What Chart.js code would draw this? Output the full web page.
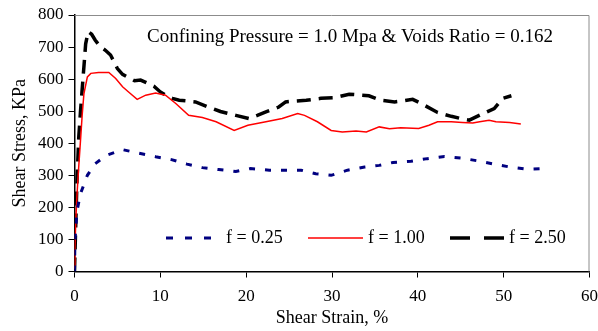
<!DOCTYPE html>
<html>
<head>
<meta charset="utf-8">
<script src="https://cdn.jsdelivr.net/npm/chart.js@4.4.1/dist/chart.umd.min.js"></script>
<style>
  html, body { margin: 0; padding: 0; background: #ffffff; }
  #wrap { width: 598px; height: 331px; }
</style>
</head>
<body>
<div id="wrap"><canvas id="c" width="598" height="331"></canvas></div>
<script>
// ----- Data -----
const chartTitle = "Confining Pressure = 1.0 Mpa & Voids Ratio = 0.162";
const seriesLabels = ["f = 0.25", "f = 1.00", "f = 2.50"];
const xTicks = [0, 10, 20, 30, 40, 50, 60];
const yTicks = [0, 100, 200, 300, 400, 500, 600, 700, 800];

const strain025 = [0, 0.05, 0.3, 0.7, 1.5, 2.4, 3.7, 5.6, 7.5, 9.45, 11.3, 13.1, 14.9, 16.8, 18.8, 20.5, 22.7, 24.4, 26.4, 28.1, 29.9, 31.8, 33.8, 35.5, 37.1, 39.2, 41.1, 43.1, 45.0, 47.0, 48.7, 50.7, 52.8, 54.8];
const stress025 = [0, 97, 190, 243, 300, 336, 362, 380, 369, 358, 349, 335, 324, 318, 312, 321, 316, 316, 316, 305, 300, 316, 326, 331, 340, 344, 352, 359, 354, 345, 336, 326, 319, 321];

const strain100 = [0, 0.05, 0.15, 0.3, 0.5, 0.7, 0.9, 1.1, 1.5, 1.9, 2.8, 4.0, 4.8, 5.6, 6.3, 7.3, 8.3, 9.45, 10.6, 11.8, 13.3, 14.9, 16.5, 18.6, 20.2, 22.3, 24.2, 26.0, 26.8, 28.3, 29.9, 31.2, 32.8, 34.0, 35.5, 36.7, 38.0, 40.1, 41.3, 42.3, 43.9, 45.2, 46.4, 47.2, 48.3, 49.1, 50.7, 52.0];
const stress100 = [10, 75, 160, 243, 330, 409, 490, 555, 607, 618, 621, 621, 602, 576, 560, 537, 550, 557, 550, 524, 487, 480, 467, 440, 456, 467, 477, 493, 487, 467, 440, 435, 438, 435, 451, 445, 448, 446, 456, 467, 467, 465, 463, 467, 472, 467, 465, 460];

const strain250 = [0, 0.1, 0.2, 0.3, 0.5, 0.7, 0.9, 1.1, 1.3, 1.6, 2.0, 2.4, 3.0, 3.6, 4.2, 5.0, 5.6, 6.3, 7.0, 7.7, 8.3, 9.25, 10.0, 10.6, 11.4, 12.2, 13.0, 14.1, 15.5, 17.0, 18.8, 20.3, 21.3, 22.3, 23.8, 24.6, 25.4, 27.0, 28.7, 30.3, 32.0, 33.0, 34.3, 35.7, 37.3, 38.5, 39.4, 40.6, 42.3, 43.9, 45.0, 46.0, 47.4, 48.9, 49.9, 50.9];
const stress250 = [0, 100, 200, 290, 420, 500, 570, 640, 710, 748, 740, 722, 701, 690, 675, 633, 615, 605, 595, 597, 590, 578, 560, 550, 540, 534, 532, 529, 514, 499, 487, 477, 487, 498, 513, 529, 531, 534, 540, 542, 553, 551, 548, 534, 529, 533, 537, 521, 496, 484, 477, 472, 490, 508, 540, 548];

function pts(xs, ys) { return xs.map((x, i) => ({ x: x, y: ys[i] })); }

const SERIF = "'Liberation Serif', 'Times New Roman', serif";

// Title + in-plot legend + gray frame
const decor = {
  id: 'decor',
  beforeDatasetsDraw(chart) {
    const { ctx, chartArea: a } = chart;
    ctx.save();
    ctx.strokeStyle = '#8c8c8c';
    ctx.lineWidth = 1;
    ctx.beginPath();
    ctx.moveTo(a.left, a.top + 0.5);
    ctx.lineTo(a.right - 0.5, a.top + 0.5);
    ctx.lineTo(a.right - 0.5, a.bottom);
    ctx.stroke();
    ctx.restore();
  },
  afterDatasetsDraw(chart) {
    const { ctx } = chart;
    ctx.save();
    ctx.fillStyle = '#000';
    ctx.font = '19px ' + SERIF;
    ctx.textBaseline = 'middle';
    ctx.textAlign = 'center';
    ctx.fillText(chartTitle, 350, 37);
    // legend
    const items = [
      { x0: 166, x1: 222, tx: 226 },
      { x0: 308, x1: 363, tx: 368 },
      { x0: 450, x1: 504, tx: 509 }
    ];
    const ly = 238;
    ctx.font = '18px ' + SERIF;
    chart.data.datasets.forEach((ds, i) => {
      const it = items[i];
      ctx.strokeStyle = ds.borderColor;
      ctx.lineWidth = ds.borderWidth;
      ctx.setLineDash(ds.legendDash || []);
      ctx.beginPath();
      ctx.moveTo(it.x0, ly);
      ctx.lineTo(it.x1, ly);
      ctx.stroke();
      ctx.setLineDash([]);
      ctx.fillStyle = '#000';
      ctx.textAlign = 'left';
      ctx.fillText(ds.label, it.tx, ly);
    });
    ctx.restore();
  }
};

new Chart(document.getElementById('c'), {
  type: 'line',
  data: {
    datasets: [
      { label: seriesLabels[0], data: pts(strain025, stress025), borderColor: '#000080', borderWidth: 3, borderDash: [6, 10], legendDash: [7, 12], pointRadius: 0, tension: 0 },
      { label: seriesLabels[1], data: pts(strain100, stress100), borderColor: '#ff0000', borderWidth: 1.5, pointRadius: 0, tension: 0 },
      { label: seriesLabels[2], data: pts(strain250, stress250), borderColor: '#000000', borderWidth: 3.5, borderDash: [14, 8], legendDash: [20, 14], pointRadius: 0, tension: 0 }
    ]
  },
  options: {
    responsive: false,
    animation: false,
    layout: { padding: { top: 15, right: 8.5, left: 0, bottom: 0 } },
    plugins: { legend: { display: false }, tooltip: { enabled: false }, title: { display: false } },
    scales: {
      x: {
        type: 'linear', min: 0, max: 60,
        afterBuildTicks: s => { s.ticks = xTicks.map(v => ({ value: v })); },
        afterFit: s => { s.height = 59.5; s.paddingLeft = 0; s.paddingRight = 0; },
        grid: { drawOnChartArea: false, drawTicks: true, tickLength: 6, color: '#000', lineWidth: 1 },
        border: { display: true, color: '#000', width: 1.5 },
        ticks: { color: '#000', font: { family: SERIF, size: 17 }, padding: 9, maxRotation: 0 },
        title: { display: true, text: 'Shear Strain, %', color: '#000', font: { family: SERIF, size: 18 }, padding: { top: 0, bottom: 2 } }
      },
      y: {
        type: 'linear', min: 0, max: 800,
        afterBuildTicks: s => { s.ticks = yTicks.map(v => ({ value: v })); },
        afterFit: s => { s.width = 74.5; s.paddingTop = 0; s.paddingBottom = 0; },
        grid: { drawOnChartArea: false, drawTicks: true, tickLength: 6, color: '#000', lineWidth: 1 },
        border: { display: true, color: '#000', width: 1.5 },
        ticks: { color: '#000', font: { family: SERIF, size: 17 }, padding: 5 },
        title: { display: true, text: 'Shear Stress, KPa', color: '#000', font: { family: SERIF, size: 18 }, padding: { top: 9, bottom: 0 } }
      }
    }
  },
  plugins: [decor]
});
</script>
</body>
</html>
